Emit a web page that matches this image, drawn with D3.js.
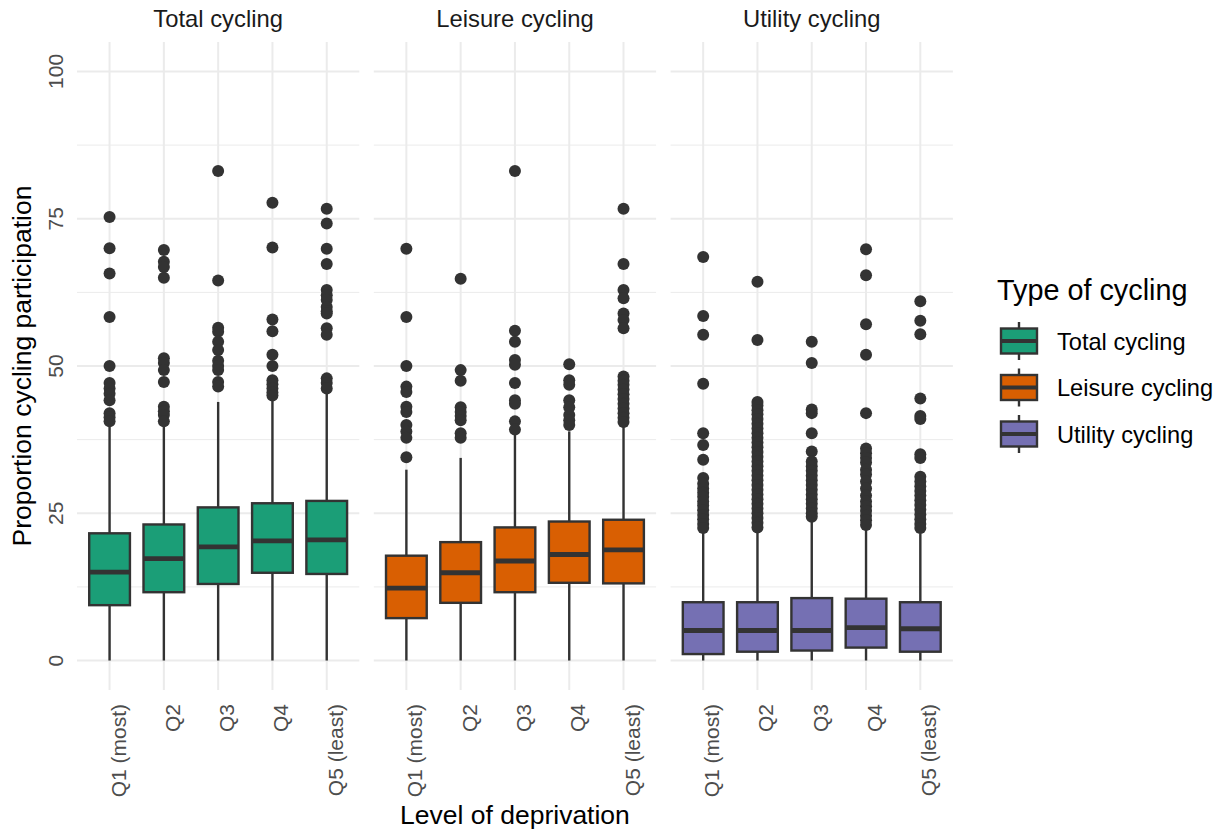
<!DOCTYPE html>
<html>
<head>
<meta charset="utf-8">
<script src="https://cdn.jsdelivr.net/npm/d3@7"></script>
<style>
  body { margin: 0; background: #fff; }
  text { font-family: "Liberation Sans", Arial, sans-serif; }
</style>
</head>
<body>
<div class="chart"></div>
<script>
// deprivation quintiles and facet types
var categories = ["Q1 (most)", "Q2", "Q3", "Q4", "Q5 (least)"];
var types = ["Total cycling", "Leisure cycling", "Utility cycling"];
var colors = ["#1B9E77", "#D95F02", "#7570B3"];
var yTicks = [0, 25, 50, 75, 100];

// box stats per type, one value per quintile
var lowerQ = [
  [9.4, 11.6, 13.0, 14.9, 14.7],
  [7.2, 9.8, 11.6, 13.2, 13.1],
  [1.1, 1.5, 1.7, 2.2, 1.5]
];
var medians = [
  [15.0, 17.3, 19.3, 20.3, 20.5],
  [12.3, 14.9, 16.9, 18.0, 18.8],
  [5.1, 5.1, 5.1, 5.6, 5.4]
];
var upperQ = [
  [21.6, 23.1, 26.0, 26.7, 27.1],
  [17.8, 20.1, 22.6, 23.6, 23.9],
  [9.9, 9.9, 10.6, 10.5, 9.9]
];
var whiskerLow = [
  [0, 0, 0, 0, 0],
  [0, 0, 0, 0, 0],
  [0, 0, 0, 0, 0]
];
var whiskerHigh = [
  [40.0, 40.3, 43.9, 44.4, 45.4],
  [32.4, 34.4, 38.3, 38.9, 40.0],
  [21.9, 22.0, 23.6, 22.2, 21.6]
];

var outliers = [
  [
    [75.3, 70, 65.7, 58.3, 50, 47.1, 46.2, 45.3, 44.2, 42, 41.3, 40.6],
    [69.7, 67.7, 66.8, 65, 51.3, 50.5, 49.3, 47.3, 43.1, 42.3, 41.7, 40.6],
    [83.1, 64.5, 56.5, 55.8, 54.1, 52.7, 50.9, 50, 49.3, 47.3, 46.5],
    [77.7, 70.1, 57.9, 55.9, 51.9, 50, 47.6, 46.9, 46.2, 45.5, 45],
    [76.7, 74.2, 69.9, 67.3, 62.9, 62, 61.2, 60, 59.3, 58.9, 56.4, 55.3, 47.9, 47.1, 46.2]
  ],
  [
    [69.9, 58.3, 50, 46.5, 45.6, 43.1, 42.2, 40, 38.9, 37.8, 34.5],
    [64.8, 49.3, 47.5, 43, 42.2, 41.5, 40.8, 38.6, 37.8],
    [83.1, 56, 54.1, 51, 50.2, 47.1, 44.2, 43.6, 40.6, 39.2],
    [50.3, 47.6, 46.8, 44.2, 43, 41.7, 40.8, 40],
    [76.7, 67.3, 62.9, 61.5, 58.9, 57.8, 56.4, 48.2, 47.5, 46.8, 46, 45.2, 44.4, 43.6, 42.8, 42, 41.2, 40.5]
  ],
  [
    [68.5, 58.5, 55.3, 47, 38.6, 36.6, 34.1, 31, 30, 29.2, 28.5, 27.8, 27, 26.3, 25.5, 24.7, 24, 23.2, 22.5],
    [64.3, 54.4, 43.9, 43.3, 42.5, 41.8, 41, 40.2, 39.4, 38.6, 37.8, 37, 36.2, 35.4, 34.6, 33.8, 33, 32.2, 31.4, 30.6, 29.8, 29, 28.2, 27.4, 26.6, 25.8, 25, 24.2, 23.4, 22.6],
    [54.1, 50.5, 42.6, 42, 38.6, 35.5, 33.8, 33, 32.2, 31.4, 30.6, 29.8, 29, 28.2, 27.4, 26.6, 25.8, 25, 24.4],
    [69.8, 65.4, 57.1, 51.9, 42, 36, 35.2, 34.4, 33.6, 32.4, 31.6, 30.4, 29.2, 28, 27, 26.2, 25.4, 24.6, 23.8, 23],
    [61, 57.7, 55.4, 44.5, 41.5, 41, 35, 34.4, 31.2, 30.4, 29.6, 28.8, 28, 27.2, 26.4, 25.6, 24.8, 24, 23.2, 22.5]
  ]
];

var svgWidth = 1230, svgHeight = 831;
var panelLeft = 77, panelWidth = 282.3, panelGap = 14.5;
var panelTop = 42, panelBottom = 690;
var ink = "#333333";

var svg = d3.select(".chart").append("svg")
  .attr("width", svgWidth)
  .attr("height", svgHeight);

var yScale = d3.scaleLinear().domain([-5, 105]).range([panelBottom, panelTop]);
var minorTicks = [12.5, 37.5, 62.5, 87.5];

types.forEach(function (type, t) {
  var x0 = panelLeft + t * (panelWidth + panelGap);
  var xScale = d3.scalePoint()
    .domain(categories)
    .range([x0, x0 + panelWidth])
    .padding(0.6);
  var boxW = xScale.step() * 0.75;

  var g = svg.append("g");

  // grid
  g.selectAll(".minor").data(minorTicks).enter().append("line")
    .attr("x1", x0).attr("x2", x0 + panelWidth)
    .attr("y1", d => yScale(d)).attr("y2", d => yScale(d))
    .attr("stroke", "#EBEBEB").attr("stroke-width", 1);
  g.selectAll(".major").data(yTicks).enter().append("line")
    .attr("x1", x0).attr("x2", x0 + panelWidth)
    .attr("y1", d => yScale(d)).attr("y2", d => yScale(d))
    .attr("stroke", "#EBEBEB").attr("stroke-width", 2);
  g.selectAll(".vgrid").data(categories).enter().append("line")
    .attr("x1", d => xScale(d)).attr("x2", d => xScale(d))
    .attr("y1", panelTop).attr("y2", panelBottom)
    .attr("stroke", "#EBEBEB").attr("stroke-width", 2);

  // strip title
  g.append("text")
    .attr("x", x0 + panelWidth / 2).attr("y", 27)
    .attr("text-anchor", "middle")
    .attr("font-size", 23.8).attr("fill", "#1A1A1A")
    .text(type);

  // x tick labels
  g.selectAll(".xlab").data(categories).enter().append("text")
    .attr("transform", d => `translate(${xScale(d) + 16},704) rotate(-90)`)
    .attr("text-anchor", "end")
    .attr("font-size", 21).attr("fill", "#4D4D4D")
    .text(d => d);

  var boxes = categories.map(function (c, i) {
    return {
      cat: c, lo: whiskerLow[t][i], q1: lowerQ[t][i], med: medians[t][i],
      q3: upperQ[t][i], hi: whiskerHigh[t][i], out: outliers[t][i]
    };
  });

  var bg = g.selectAll(".box").data(boxes).enter().append("g");

  bg.append("line")
    .attr("x1", d => xScale(d.cat)).attr("x2", d => xScale(d.cat))
    .attr("y1", d => yScale(d.q3)).attr("y2", d => yScale(d.hi))
    .attr("stroke", ink).attr("stroke-width", 2.4);
  bg.append("line")
    .attr("x1", d => xScale(d.cat)).attr("x2", d => xScale(d.cat))
    .attr("y1", d => yScale(d.q1)).attr("y2", d => yScale(d.lo))
    .attr("stroke", ink).attr("stroke-width", 2.4);
  bg.append("rect")
    .attr("x", d => xScale(d.cat) - boxW / 2).attr("width", boxW)
    .attr("y", d => yScale(d.q3))
    .attr("height", d => yScale(d.q1) - yScale(d.q3))
    .attr("fill", colors[t]).attr("stroke", ink).attr("stroke-width", 2.4);
  bg.append("line")
    .attr("x1", d => xScale(d.cat) - boxW / 2).attr("x2", d => xScale(d.cat) + boxW / 2)
    .attr("y1", d => yScale(d.med)).attr("y2", d => yScale(d.med))
    .attr("stroke", ink).attr("stroke-width", 4.8);

  bg.each(function (d) {
    d3.select(this).selectAll("circle").data(d.out).enter().append("circle")
      .attr("cx", xScale(d.cat)).attr("cy", v => yScale(v))
      .attr("r", 6).attr("fill", ink);
  });
});

// y tick labels
svg.selectAll(".ylab").data(yTicks).enter().append("text")
  .attr("transform", d => `translate(63,${yScale(d)}) rotate(-90)`)
  .attr("text-anchor", "middle")
  .attr("font-size", 21).attr("fill", "#4D4D4D")
  .text(d => d);

// axis titles
svg.append("text")
  .attr("transform", `translate(31,${(panelTop + panelBottom) / 2}) rotate(-90)`)
  .attr("text-anchor", "middle").attr("font-size", 26.5).attr("fill", "#000")
  .text("Proportion cycling participation");
svg.append("text")
  .attr("x", panelLeft + panelWidth * 1.5 + panelGap).attr("y", 824)
  .attr("text-anchor", "middle").attr("font-size", 26.5).attr("fill", "#000")
  .text("Level of deprivation");

// legend
var legend = svg.append("g");
legend.append("text")
  .attr("x", 997).attr("y", 300)
  .attr("font-size", 28.8).attr("fill", "#000")
  .text("Type of cycling");

var keys = legend.selectAll(".key").data(types).enter().append("g")
  .attr("transform", (d, i) => `translate(1019,${341 + i * 46.5})`);
keys.append("line").attr("y1", -19).attr("y2", 19)
  .attr("stroke", ink).attr("stroke-width", 2.4);
keys.append("rect").attr("x", -18).attr("y", -12.5).attr("width", 36).attr("height", 25)
  .attr("fill", (d, i) => colors[i]).attr("stroke", ink).attr("stroke-width", 2.4);
keys.append("line").attr("x1", -18).attr("x2", 18)
  .attr("stroke", ink).attr("stroke-width", 4);
keys.append("text")
  .attr("x", 38).attr("y", 8.5)
  .attr("font-size", 23.6).attr("fill", "#000")
  .text(d => d);
</script>
</body>
</html>
